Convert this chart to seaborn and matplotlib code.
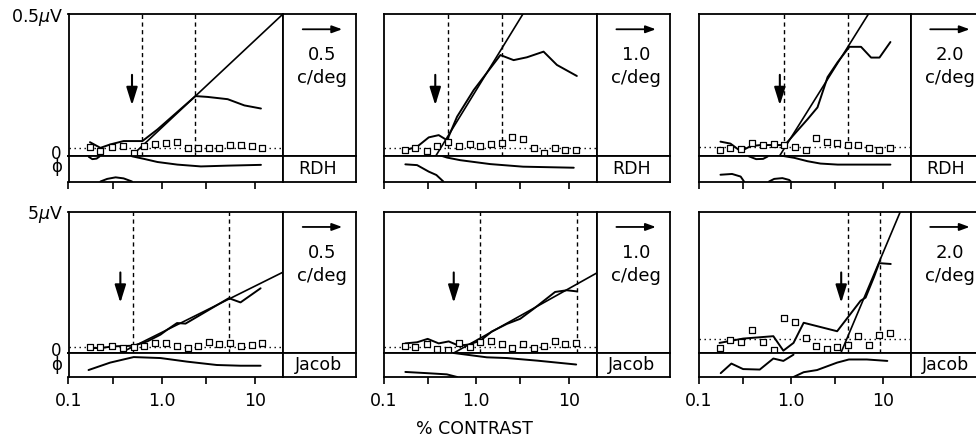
import matplotlib
matplotlib.use("Agg")
import matplotlib.pyplot as plt
import seaborn as sns

sns.set_theme(style="white")
plt.rcParams["font.family"] = ["DejaVu Sans"]
plt.rcParams["mathtext.fontset"] = "dejavusans"
plt.rcParams["text.color"] = "black"
plt.rcParams["xtick.color"] = "black"
plt.rcParams["xtick.labelcolor"] = "black"

# contrast steps of the sweep (% contrast), same for every record
contrast = [0.17, 0.22, 0.29, 0.38, 0.50, 0.65, 0.85, 1.1, 1.45, 1.9,
            2.45, 3.2, 4.15, 5.4, 7.05, 9.2, 12.0]

# ---- RDH, 0.5 c/deg (uV) ----
rdh05_noise = [0.029, 0.015, 0.029, 0.033, 0.010, 0.033, 0.041, 0.045, 0.047,
               0.025, 0.025, 0.025, 0.025, 0.037, 0.037, 0.033, 0.025]
rdh05_level = 0.025
rdh05_amp_x = [0.17, 0.22, 0.28, 0.39, 0.62, 0.90, 2.3, 3.1, 5.1, 7.7, 11.6]
rdh05_amp_y = [0.047, 0.027, 0.039, 0.051, 0.051, 0.092, 0.21, 0.207, 0.199, 0.177, 0.166]
rdh05_fit = ([0.48, 20.0], [0.0, 0.5])
rdh05_thresh = 0.48
rdh05_dash = [0.62, 2.3]
rdh05_phase = [([0.48, 0.645, 0.90, 1.47, 2.63, 5.1, 11.6], [-0.03, -0.13, -0.25, -0.35, -0.42, -0.39, -0.36]),
               ([0.165, 0.18, 0.20, 0.215], [-0.05, -0.14, -0.12, -0.04]),
               ([0.22, 0.26, 0.32, 0.39, 0.48], [-1.0, -0.9, -0.84, -0.88, -1.0])]

# ---- RDH, 1.0 c/deg ----
rdh10_noise = [0.019, 0.025, 0.017, 0.034, 0.048, 0.034, 0.039, 0.034, 0.039,
               0.045, 0.064, 0.057, 0.025, 0.009, 0.025, 0.021, 0.021]
rdh10_level = 0.027
rdh10_amp_x = [0.171, 0.229, 0.306, 0.392, 0.483, 0.619, 0.936, 1.82, 2.53, 3.52, 5.33, 7.43, 12.2]
rdh10_amp_y = [0.019, 0.031, 0.064, 0.072, 0.054, 0.137, 0.231, 0.355, 0.337, 0.347, 0.367, 0.320, 0.281]
rdh10_fit = ([0.367, 3.19], [0.0, 0.5])
rdh10_thresh = 0.36
rdh10_dash = [0.49, 1.88]
rdh10_phase = [([0.41, 0.483, 0.67, 1.41, 3.2, 11.3], [0.0, -0.08, -0.18, -0.33, -0.43, -0.47]),
               ([0.171, 0.229, 0.306, 0.37, 0.44], [-0.34, -0.37, -0.62, -0.75, -1.0])]

# ---- RDH, 2.0 c/deg ----
rdh20_noise = [0.018, 0.027, 0.024, 0.043, 0.037, 0.039, 0.037, 0.031, 0.021,
               0.061, 0.049, 0.045, 0.036, 0.036, 0.027, 0.018, 0.027]
rdh20_level = 0.030
rdh20_amp_x = [0.172, 0.221, 0.285, 0.366, 0.471, 0.658, 0.86, 1.09, 1.52, 1.95, 2.51,
               3.23, 4.33, 5.8, 7.46, 9.2, 12.1]
rdh20_amp_y = [0.049, 0.042, 0.015, 0.033, 0.037, 0.037, 0.037, 0.075, 0.128, 0.170, 0.277,
               0.330, 0.384, 0.384, 0.346, 0.346, 0.401]
rdh20_fit = ([0.76, 6.98], [0.0, 0.5])
rdh20_thresh = 0.76
rdh20_dash = [0.845, 4.15]
rdh20_phase = [([0.77, 1.09, 1.52, 2.1, 3.23, 5.8, 12.1], [0.0, -0.09, -0.22, -0.31, -0.35, -0.35, -0.35]),
               ([0.172, 0.23, 0.285, 0.31], [-0.74, -0.71, -0.81, -1.0]),
               ([0.58, 0.66, 0.81, 0.96, 1.0], [-1.0, -0.9, -0.87, -0.94, -1.0]),
               ([0.35, 0.42, 0.50, 0.56], [-0.03, -0.14, -0.13, -0.04])]

# ---- Jacob, 0.5 c/deg ----
jac05_noise = [0.21, 0.20, 0.26, 0.18, 0.20, 0.26, 0.35, 0.35, 0.26, 0.18,
               0.235, 0.38, 0.33, 0.35, 0.26, 0.29, 0.35]
jac05_level = 0.21
jac05_amp_x = [0.168, 0.219, 0.305, 0.50, 0.70, 0.97, 1.14, 1.46, 1.80, 2.6, 5.25, 7.0, 11.5]
jac05_amp_y = [0.176, 0.176, 0.235, 0.259, 0.41, 0.65, 0.82, 1.06, 1.04, 1.35, 1.94, 1.79, 2.29]
jac05_fit = ([0.36, 20.0], [0.0, 2.86])
jac05_thresh = 0.36
jac05_dash = [0.49, 5.25]
jac05_phase = [([0.164, 0.28, 0.50, 0.97, 1.87, 3.9, 7.0, 11.5],
                [-0.71, -0.4, -0.17, -0.21, -0.36, -0.5, -0.53, -0.53])]

# ---- Jacob, 1.0 c/deg ----
jac10_noise = [0.26, 0.225, 0.32, 0.14, 0.12, 0.34, 0.20, 0.40, 0.44, 0.32,
               0.17, 0.32, 0.17, 0.26, 0.41, 0.32, 0.34]
jac10_level = 0.225
jac10_amp_x = [0.171, 0.229, 0.298, 0.392, 0.503, 0.645, 0.83, 1.11, 1.47, 2.14, 2.98,
               4.15, 7.1, 9.5, 12.2]
jac10_amp_y = [0.34, 0.38, 0.50, 0.34, 0.41, 0.26, 0.30, 0.44, 0.76, 1.03, 1.21,
               1.56, 2.16, 2.22, 2.18]
jac10_fit = ([0.57, 20.0], [0.0, 2.83])
jac10_thresh = 0.57
jac10_dash = [1.09, 12.2]
jac10_phase = [([0.57, 0.94, 1.3, 2.14, 4.6, 12.0], [0.0, -0.11, -0.18, -0.21, -0.32, -0.48]),
               ([0.171, 0.293, 0.48, 0.62], [-0.79, -0.84, -0.89, -1.0])]

# ---- Jacob, 2.0 c/deg ----
jac20_noise = [0.18, 0.45, 0.39, 0.80, 0.39, 0.12, 1.23, 1.10, 0.54, 0.24,
               0.14, 0.20, 0.30, 0.60, 0.27, 0.65, 0.71]
jac20_level = 0.48
jac20_amp_x = [0.168, 0.303, 0.646, 0.83, 1.07, 1.38, 3.19, 4.28, 5.74, 6.5, 8.0, 9.12, 12.2]
jac20_amp_y = [0.357, 0.51, 0.595, 0.083, 0.357, 1.07, 0.77, 1.31, 1.85, 1.96, 2.68, 3.18, 3.15]
jac20_fit = ([3.5, 15.5], [0.0, 5.0])
jac20_thresh = 3.53
jac20_dash = [4.2, 9.27]
jac20_phase = [([0.173, 0.226, 0.303, 0.46, 0.646, 0.83, 1.07], [-0.84, -0.44, -0.67, -0.69, -0.23, -0.33, -0.07]),
               ([1.07, 1.38, 1.93, 3.19, 4.28, 6.7, 11.2], [-1.0, -0.8, -0.71, -0.4, -0.27, -0.27, -0.33])]

freq_labels = ["0.5", "1.0", "2.0"]
subjects = ["RDH", "Jacob"]
full_scale = [0.5, 5.0]
scale_labels = [r"0.5$\mu$V", r"5$\mu$V"]
xtick_pos = [0.1, 0.3, 1, 3, 10]
xtick_labels = ["0.1", "", "1.0", "", "10"]

panels = [
    [dict(noise=rdh05_noise, level=rdh05_level, ax_=rdh05_amp_x, ay=rdh05_amp_y, fit=rdh05_fit,
          thr=rdh05_thresh, dash=rdh05_dash, phase=rdh05_phase),
     dict(noise=rdh10_noise, level=rdh10_level, ax_=rdh10_amp_x, ay=rdh10_amp_y, fit=rdh10_fit,
          thr=rdh10_thresh, dash=rdh10_dash, phase=rdh10_phase),
     dict(noise=rdh20_noise, level=rdh20_level, ax_=rdh20_amp_x, ay=rdh20_amp_y, fit=rdh20_fit,
          thr=rdh20_thresh, dash=rdh20_dash, phase=rdh20_phase)],
    [dict(noise=jac05_noise, level=jac05_level, ax_=jac05_amp_x, ay=jac05_amp_y, fit=jac05_fit,
          thr=jac05_thresh, dash=jac05_dash, phase=jac05_phase),
     dict(noise=jac10_noise, level=jac10_level, ax_=jac10_amp_x, ay=jac10_amp_y, fit=jac10_fit,
          thr=jac10_thresh, dash=jac10_dash, phase=jac10_phase),
     dict(noise=jac20_noise, level=jac20_level, ax_=jac20_amp_x, ay=jac20_amp_y, fit=jac20_fit,
          thr=jac20_thresh, dash=jac20_dash, phase=jac20_phase)],
]

# -----------------------------
# Layout (pixels of a 976x443 figure)
# -----------------------------
W, H = 976, 443
row_top = [14, 211.7]
row_zero = [155.5, 353]
row_bot = [181.5, 377]
col_left = [68.5, 383.8, 698.8]
col_right = [283, 596.7, 910.5]
box_w = 73
zero_phi_spacing = [0.66, 0.78]


def frac(left, top, width, height):
    return [left / W, 1 - (top + height) / H, width / W, height / H]


def style_box(ax, lw=1.3):
    ax.set_facecolor("white")
    for sp in ax.spines.values():
        sp.set_visible(True)
        sp.set_color("black")
        sp.set_linewidth(lw)
    ax.grid(False)


fig = plt.figure(figsize=(W / 100, H / 100), dpi=100)

for r in range(2):
    top, zero, bot = row_top[r], row_zero[r], row_bot[r]
    for c in range(3):
        p = panels[r][c]
        left, right = col_left[c], col_right[c]

        amp = fig.add_axes(frac(left, top, right - left, zero - top))
        ph = fig.add_axes(frac(left, zero, right - left, bot - zero))
        for ax in (amp, ph):
            ax.set_xscale("log")
            ax.set_xlim(0.1, 20)
            style_box(ax)
        amp.set_ylim(0, full_scale[r])
        ph.set_ylim(-1, 0)
        amp.set_xticks([])
        amp.set_xticks([], minor=True)
        amp.set_yticks([])
        ph.set_yticks([])
        ph.set_xticks(xtick_pos)
        ph.set_xticks([], minor=True)
        ph.set_xticklabels(xtick_labels if r == 1 else [""] * len(xtick_pos))
        ph.tick_params(axis="x", direction="out", length=5, width=1.2, color="black",
                       bottom=True, labelsize=12.5, pad=6, labelcolor="black")

        # noise level and dashed markers
        amp.axhline(p["level"], color="black", lw=1.0, ls=(0, (1, 2.6)))
        for d in p["dash"]:
            amp.axvline(d, color="black", lw=1.0, ls=(0, (3, 2.5)))

        # regression line, amplitude trace, noise squares
        amp.plot(p["fit"][0], p["fit"][1], color="black", lw=1.2)
        sns.lineplot(x=p["ax_"], y=p["ay"], ax=amp, color="black", linewidth=1.4,
                     estimator=None, sort=False, legend=False)
        sns.scatterplot(x=contrast, y=p["noise"], ax=amp, marker="s", s=14,
                        color="white", edgecolor="black", linewidth=0.9,
                        clip_on=False, zorder=4, legend=False)

        # threshold arrow
        amp.annotate("", xy=(p["thr"], 0.355), xytext=(p["thr"], 0.57),
                     xycoords=("data", "axes fraction"), textcoords=("data", "axes fraction"),
                     arrowprops=dict(arrowstyle="-|>,head_length=0.9,head_width=0.28",
                                     color="black", lw=1.5, shrinkA=0, shrinkB=0,
                                     mutation_scale=12))

        # phase traces
        for xs, ys in p["phase"]:
            sns.lineplot(x=xs, y=ys, ax=ph, color="black", linewidth=1.4,
                         estimator=None, sort=False, legend=False)

        for ax in (amp, ph):
            ax.set_xlabel("")
            ax.set_ylabel("")

        # label boxes on the right
        bt = fig.add_axes(frac(right, top, box_w, zero - top))
        bb = fig.add_axes(frac(right, zero, box_w, bot - zero))
        for ax in (bt, bb):
            style_box(ax)
            ax.set_xticks([])
            ax.set_yticks([])
            ax.set_xlim(0, 1)
            ax.set_ylim(0, 1)
        bt.annotate("", xy=(0.81, 0.892), xytext=(0.27, 0.892),
                    arrowprops=dict(arrowstyle="-|>,head_length=0.6,head_width=0.22",
                                    color="black", lw=1.3, shrinkA=0, shrinkB=0,
                                    mutation_scale=10))
        bt.text(0.54, 0.71, freq_labels[c], ha="center", va="center", fontsize=13)
        bt.text(0.54, 0.548, "c/deg", ha="center", va="center", fontsize=13)
        bb.text(0.48, 0.5, subjects[r], ha="center", va="center", fontsize=12.5)

    # left-hand scale labels
    fig.text(63 / W, 1 - (top + 3) / H, scale_labels[r], ha="right", va="center", fontsize=12.5)
    fig.text(62 / W, 1 - (zero + 5) / H, "0\nϕ", ha="right", va="center", fontsize=12,
             multialignment="center", linespacing=zero_phi_spacing[r])

fig.text(474 / W, 1 - 429 / H, "% CONTRAST", ha="center", va="center", fontsize=12.5)

fig.savefig("out.png", dpi=100)
